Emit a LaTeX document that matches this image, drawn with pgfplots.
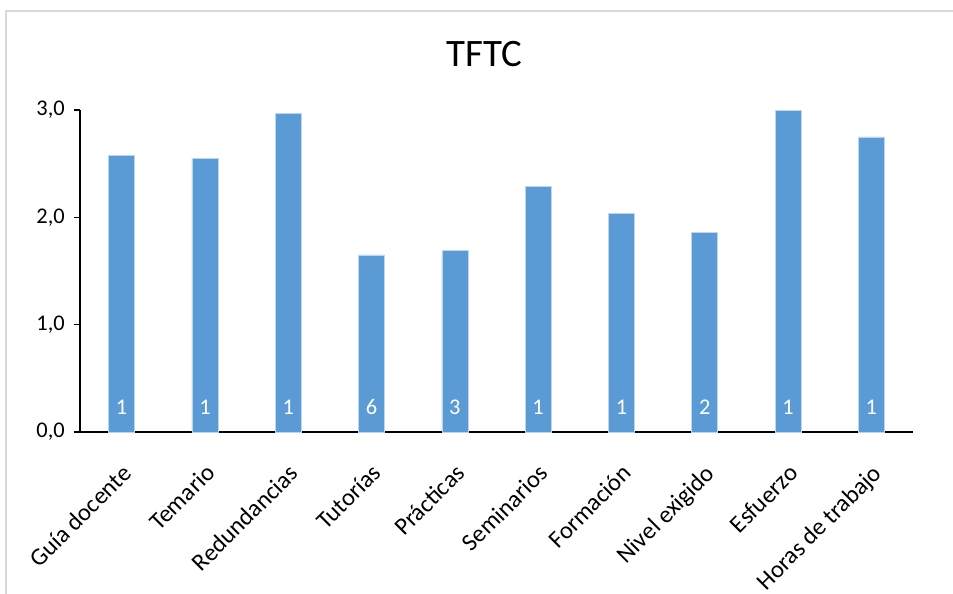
\documentclass[border=0pt]{standalone}
\usepackage{fontspec}
\setmainfont{Carlito}
\usepackage{pgfplots}
\pgfplotsset{compat=1.18}
\definecolor{barblue}{HTML}{5B9BD5}
\definecolor{framegray}{HTML}{D9D9D9}
\newcommand{\lblfont}{\fontsize{22.5}{27}\selectfont}
\newcommand{\xlblfont}{\fontsize{24.5}{29}\selectfont}

\begin{document}
\begin{tikzpicture}
\path[use as bounding box] (-80bp,-162bp) rectangle (873bp,432bp);
\begin{axis}[
  at={(0,0)}, anchor=south west,
  scale only axis, width=833bp, height=322bp,
  xmin=-0.5, xmax=9.5, ymin=0, ymax=3,
  axis lines*=left,
  axis line style={line width=1.3bp, black},
  x axis line style={shorten <=-6bp},
  ytick={0,1,2,3},
  tick align=outside,
  major tick length=6bp,
  ytick style={line width=1.3bp, black},
  xtick={0,...,9},
  xtick style={draw=none},
  xticklabels={Guía docente, Temario, Redundancias, Tutorías, Prácticas, Seminarios, Formación, Nivel exigido, Esfuerzo, Horas de trabajo},
  x tick label style={rotate=45, anchor=north east, font=\xlblfont, inner sep=0pt, xshift=-18bp, yshift=-17bp},
  y tick label style={font=\lblfont, inner sep=0pt, xshift=-9bp},
  /pgf/number format/.cd, fixed, fixed zerofill, precision=1, use comma, assume math mode=true,
  /pgfplots/.cd,
  title={TFTC},
  title style={at={(axis description cs:0.5,1)}, anchor=center, xshift=-12bp, yshift=50bp, font=\fontsize{39}{45}\selectfont},
]
\addplot[ybar, bar width=26bp, fill=barblue, draw=white!60!barblue, line width=0.6bp]
  coordinates {(0,2.58) (1,2.55) (2,2.97) (3,1.65) (4,1.69) (5,2.29) (6,2.04) (7,1.86) (8,3.00) (9,2.75)};
\addplot[draw=none, mark=none, nodes near coords, point meta=explicit symbolic,
  every node near coord/.append style={text=white, anchor=center, yshift=25bp, font=\lblfont}]
  coordinates {(0,0) [1] (1,0) [1] (2,0) [1] (3,0) [6] (4,0) [3] (5,0) [1] (6,0) [1] (7,0) [2] (8,0) [1] (9,0) [1]};
\end{axis}
\draw[framegray, line width=1.5bp] (-74bp,-170bp) -- (-74bp,421bp) -- (880bp,421bp);
\end{tikzpicture}
\end{document}
